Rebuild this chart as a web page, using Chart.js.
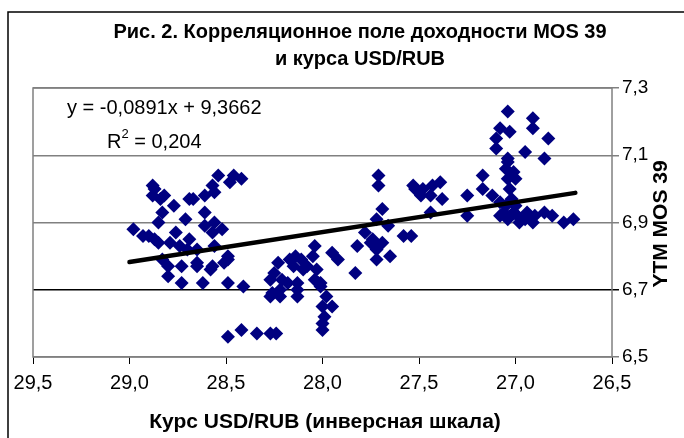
<!DOCTYPE html>
<html>
<head>
<meta charset="utf-8">
<script src="https://cdn.jsdelivr.net/npm/chart.js@4"></script>
<style>
  body { margin: 0; background: #fff; }
  #wrap { width: 684px; height: 438px; }
</style>
</head>
<body>
<div id="wrap"><canvas id="myChart" width="684" height="438"></canvas></div>
<script>
// курс USD/RUB и доходность MOS 39
var usdRub = [28.54, 28.46, 28.42, 28.48, 28.57, 28.87, 28.88, 28.84, 28.77, 28.67,
    28.61, 28.56, 28.83, 28.85, 28.71, 28.61, 28.56, 28.57, 28.98, 28.93,
    28.87, 28.76, 28.79, 28.74, 28.70, 28.65, 28.56, 28.49, 28.83, 28.80,
    28.73, 28.65, 28.57, 28.51, 28.80, 28.73, 28.62, 28.49, 28.41, 28.65,
    28.58, 28.49, 28.88, 28.82, 28.69, 28.90, 28.85, 28.69, 28.61, 28.52,
    28.49, 28.42, 28.34, 28.27, 28.24, 28.23, 28.17, 28.11, 28.08, 28.25,
    28.26, 28.18, 28.13, 28.22, 28.03, 28.01, 28.00, 28.00, 28.00, 28.04,
    28.14, 28.05, 27.95, 27.92, 28.15, 28.10, 28.27, 28.21, 28.13, 28.02,
    28.27, 28.22, 28.13, 27.98, 27.95, 27.99, 27.83, 28.04, 28.01, 27.71,
    27.71, 27.69, 27.72, 27.66, 27.58, 27.54, 27.78, 27.74, 27.69, 27.82,
    27.72, 27.65, 27.72, 27.75, 27.53, 27.48, 27.43, 27.49, 27.44, 27.39,
    27.38, 27.44, 27.52, 27.25, 27.25, 27.17, 27.17, 27.04, 26.91, 26.91,
    27.08, 27.03, 27.10, 27.10, 26.83, 26.95, 26.85, 27.04, 27.04, 27.05,
    27.01, 27.00, 27.04, 27.03, 27.12, 27.08, 27.06, 27.01, 26.94, 27.04,
    26.98, 26.91, 27.08, 26.85, 26.81, 26.75, 26.70, 27.00, 26.95, 26.99,
    27.05, 26.90, 27.02];
var ytm = [7.04, 7.04, 7.03, 7.02, 7.01, 7.00, 6.98, 6.97, 6.95, 6.97,
    6.98, 6.99, 6.93, 6.90, 6.91, 6.93, 6.90, 6.87, 6.88, 6.86,
    6.85, 6.87, 6.84, 6.83, 6.82, 6.82, 6.83, 6.80, 6.79, 6.77,
    6.77, 6.77, 6.77, 6.78, 6.74, 6.72, 6.72, 6.72, 6.71, 6.78,
    6.76, 6.79, 7.01, 6.98, 6.85, 6.86, 6.84, 6.97, 6.89, 6.88,
    6.56, 6.58, 6.57, 6.57, 6.57, 6.78, 6.79, 6.79, 6.77, 6.75,
    6.69, 6.72, 6.70, 6.70, 6.76, 6.72, 6.65, 6.60, 6.58, 6.83,
    6.80, 6.80, 6.81, 6.79, 6.77, 6.76, 6.73, 6.73, 6.72, 6.72,
    6.68, 6.68, 6.68, 6.68, 6.65, 6.62, 6.75, 6.73, 6.71, 7.04,
    7.01, 6.94, 6.91, 6.89, 6.86, 6.86, 6.87, 6.85, 6.84, 6.83,
    6.82, 6.80, 6.79, 6.84, 7.01, 7.00, 7.01, 6.98, 6.98, 7.02,
    6.97, 6.93, 7.00, 6.98, 6.92, 7.04, 7.00, 7.23, 7.21, 7.18,
    7.18, 7.17, 7.15, 7.12, 7.15, 7.11, 7.09, 7.09, 7.08, 7.06,
    7.05, 7.03, 7.03, 7.00, 6.98, 6.96, 6.93, 6.93, 6.93, 6.91,
    6.90, 6.90, 6.92, 6.93, 6.92, 6.90, 6.91, 6.95, 6.91, 6.92,
    6.95, 6.92, 6.97];

// линия тренда из уравнения на графике
var trendSlope = -0.0891;
var trendIntercept = 9.3662;
var trendX = [29.0, 26.69];

var xTicks = [29.5, 29.0, 28.5, 28.0, 27.5, 27.0, 26.5];
var yTicks = [6.5, 6.7, 6.9, 7.1, 7.3];

var points = [];
for (var i = 0; i < usdRub.length; i++) {
    points.push({ x: usdRub[i], y: ytm[i] });
}
var trend = [];
for (var j = 0; j < trendX.length; j++) {
    trend.push({ x: trendX[j], y: trendSlope * trendX[j] + trendIntercept });
}

function fmt(v) {
    return v.toFixed(1).replace('.', ',');
}

var FONT = "'Liberation Sans', Arial, sans-serif";

var decor = {
    id: 'decor',
    beforeDraw: function (chart) {
        var c = chart.ctx;
        c.save();
        c.fillStyle = '#fff';
        c.fillRect(0, 0, chart.width, chart.height);
        c.restore();
    },
    afterDatasetsDraw: function (chart) {
        var c = chart.ctx;
        var a = chart.chartArea;
        c.save();
        // рамка области построения
        c.strokeStyle = '#808080';
        c.lineWidth = 1.5;
        c.strokeRect(a.left, a.top, a.right - a.left, a.bottom - a.top);
        c.restore();
    },
    afterDraw: function (chart) {
        var c = chart.ctx;
        c.save();
        // рамка диаграммы
        c.strokeStyle = '#000';
        c.lineWidth = 1.5;
        c.beginPath();
        c.moveTo(8, chart.height);
        c.lineTo(8, 12);
        c.lineTo(chart.width, 12);
        c.stroke();

        c.fillStyle = '#000';
        c.textAlign = 'center';
        c.textBaseline = 'alphabetic';
        c.font = 'bold 20px ' + FONT;
        c.fillText('Рис. 2. Корреляционное поле доходности MOS 39', 360, 38);
        c.fillText('и курса USD/RUB', 360, 65);

        c.font = 'bold 21px ' + FONT;
        c.fillText('Курс USD/RUB (инверсная шкала)', 325, 428);

        c.save();
        c.translate(667, 224);
        c.rotate(-Math.PI / 2);
        c.font = 'bold 21px ' + FONT;
        c.fillText('YTM MOS 39', 0, 0);
        c.restore();

        // уравнение тренда
        c.font = '20px ' + FONT;
        c.textAlign = 'left';
        c.fillText('y = -0,0891x + 9,3662', 67, 114);
        c.fillText('R', 107, 148);
        var rw = c.measureText('R').width;
        c.font = '13px ' + FONT;
        c.fillText('2', 107 + rw, 138);
        var sw = c.measureText('2').width;
        c.font = '20px ' + FONT;
        c.fillText(' = 0,204', 107 + rw + sw, 148);
        c.restore();
    }
};

new Chart('myChart', {
    type: 'scatter',
    data: {
        datasets: [{
            data: points,
            pointStyle: 'rectRot',
            pointRadius: 7,
            pointBackgroundColor: '#000080',
            pointBorderColor: '#000080',
            pointBorderWidth: 0,
            order: 2
        }, {
            data: trend,
            showLine: true,
            borderColor: '#000',
            borderWidth: 4.5,
            borderCapStyle: 'round',
            pointRadius: 0,
            order: 1
        }]
    },
    options: {
        responsive: false,
        animation: false,
        layout: { padding: { left: 33, top: 88, right: 0, bottom: 0 } },
        plugins: {
            legend: { display: false },
            tooltip: { enabled: false }
        },
        scales: {
            x: {
                type: 'linear',
                reverse: true,
                min: 26.5,
                max: 29.5,
                afterBuildTicks: function (s) {
                    s.ticks = xTicks.map(function (v) { return { value: v }; });
                },
                afterFit: function (s) { s.height = 81; },
                grid: {
                    drawOnChartArea: false,
                    drawTicks: true,
                    tickLength: 7,
                    color: '#000'
                },
                border: { display: false },
                ticks: {
                    padding: 7,
                    maxRotation: 0,
                    autoSkip: false,
                    color: '#000',
                    font: { family: FONT, size: 20 },
                    callback: function (v) { return fmt(v); }
                }
            },
            y: {
                position: 'right',
                min: 6.5,
                max: 7.3,
                afterBuildTicks: function (s) {
                    s.ticks = yTicks.map(function (v) { return { value: v }; });
                },
                afterFit: function (s) { s.width = 72; },
                grid: {
                    drawTicks: true,
                    tickLength: 7,
                    lineWidth: 1.5,
                    color: function (ctx) {
                        if (ctx.tick && Math.abs(ctx.tick.value - 6.7) < 0.001) return '#000';
                        return '#808080';
                    }
                },
                border: { display: false },
                ticks: {
                    padding: 3,
                    autoSkip: false,
                    color: '#000',
                    font: { family: FONT, size: 19 },
                    callback: function (v) { return fmt(v); }
                }
            }
        }
    },
    plugins: [decor]
});
</script>
</body>
</html>
